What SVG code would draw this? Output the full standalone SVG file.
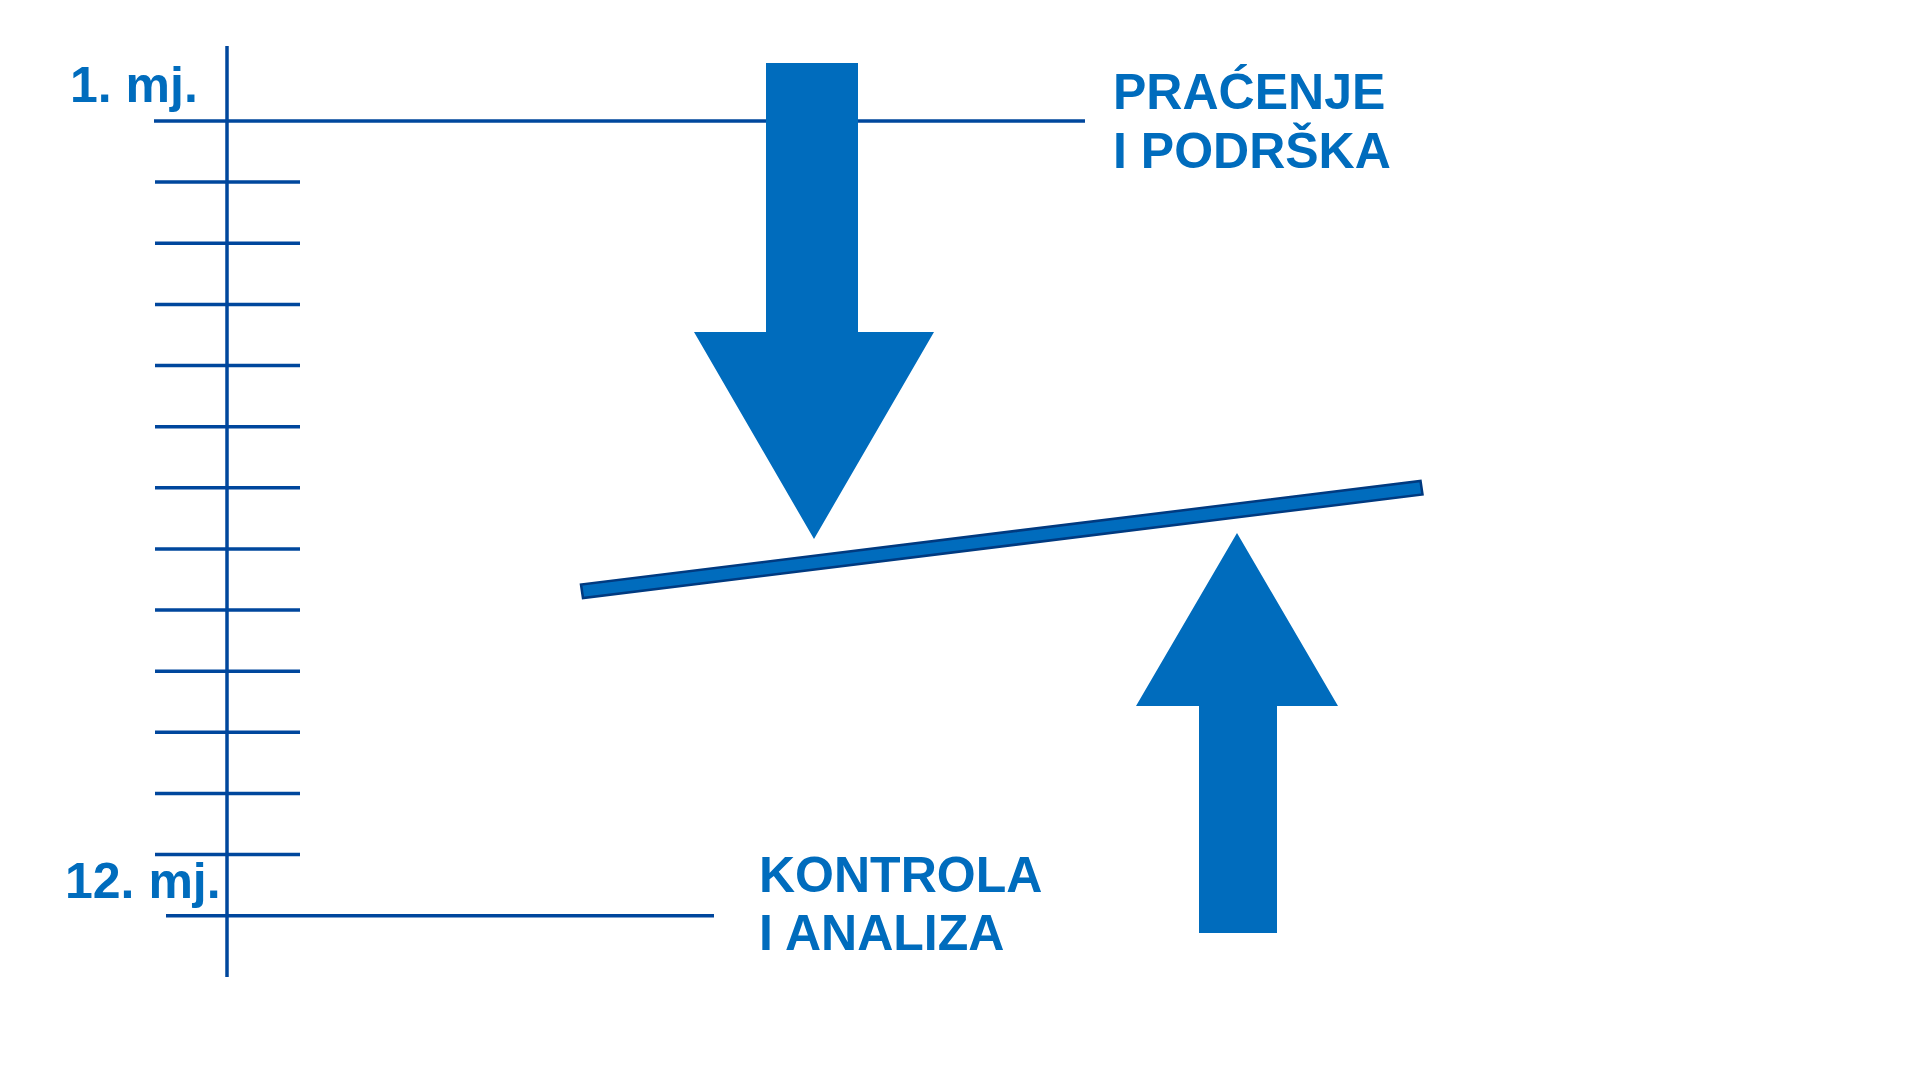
<svg xmlns="http://www.w3.org/2000/svg" width="1920" height="1080" viewBox="0 0 1920 1080">
<style>
.ln{stroke:#00479D;stroke-width:3.5;fill:none}
.arr{fill:#006CBD}
.lbl{font-family:"Liberation Sans",Arial,sans-serif;font-weight:bold;font-size:50px;fill:#006CBD}
</style>
<rect width="1920" height="1080" fill="#ffffff"/>
<g id="scale">
<line class="ln" x1="227" y1="46" x2="227" y2="977"/>
<line class="ln" x1="154" y1="121" x2="1085" y2="121"/>
<line class="ln" x1="166" y1="915.7" x2="714" y2="915.7"/>
<g id="ticks">
<line class="ln" x1="155" y1="182.1" x2="300" y2="182.1"/>
<line class="ln" x1="155" y1="243.3" x2="300" y2="243.3"/>
<line class="ln" x1="155" y1="304.4" x2="300" y2="304.4"/>
<line class="ln" x1="155" y1="365.5" x2="300" y2="365.5"/>
<line class="ln" x1="155" y1="426.7" x2="300" y2="426.7"/>
<line class="ln" x1="155" y1="487.8" x2="300" y2="487.8"/>
<line class="ln" x1="155" y1="548.9" x2="300" y2="548.9"/>
<line class="ln" x1="155" y1="610" x2="300" y2="610"/>
<line class="ln" x1="155" y1="671.2" x2="300" y2="671.2"/>
<line class="ln" x1="155" y1="732.3" x2="300" y2="732.3"/>
<line class="ln" x1="155" y1="793.4" x2="300" y2="793.4"/>
<line class="ln" x1="155" y1="854.6" x2="300" y2="854.6"/>
</g>
</g>
<g id="label-1mj"><text class="lbl" x="70" y="102">1. mj.</text></g>
<g id="label-12mj"><text class="lbl" x="65" y="898">12. mj.</text></g>
<g id="arrow-down"><polygon class="arr" points="766,63 858,63 858,332 934,332 814,539 694,332 766,332"/></g>
<g id="arrow-up"><polygon class="arr" points="1199,933 1277,933 1277,706 1338,706 1237,533 1136,706 1199,706"/></g>
<g id="beam"><polygon points="581,584.5 583,598 1422.5,494.5 1420.5,481" fill="#006CBD" stroke="#003A80" stroke-width="2.5"/></g>
<g id="label-pracenje"><text class="lbl" x="1113" y="109">PRAĆENJE</text><text class="lbl" x="1113" y="168">I PODRŠKA</text></g>
<g id="label-kontrola"><text class="lbl" x="759" y="892">KONTROLA</text><text class="lbl" x="759" y="950">I ANALIZA</text></g>
</svg>
